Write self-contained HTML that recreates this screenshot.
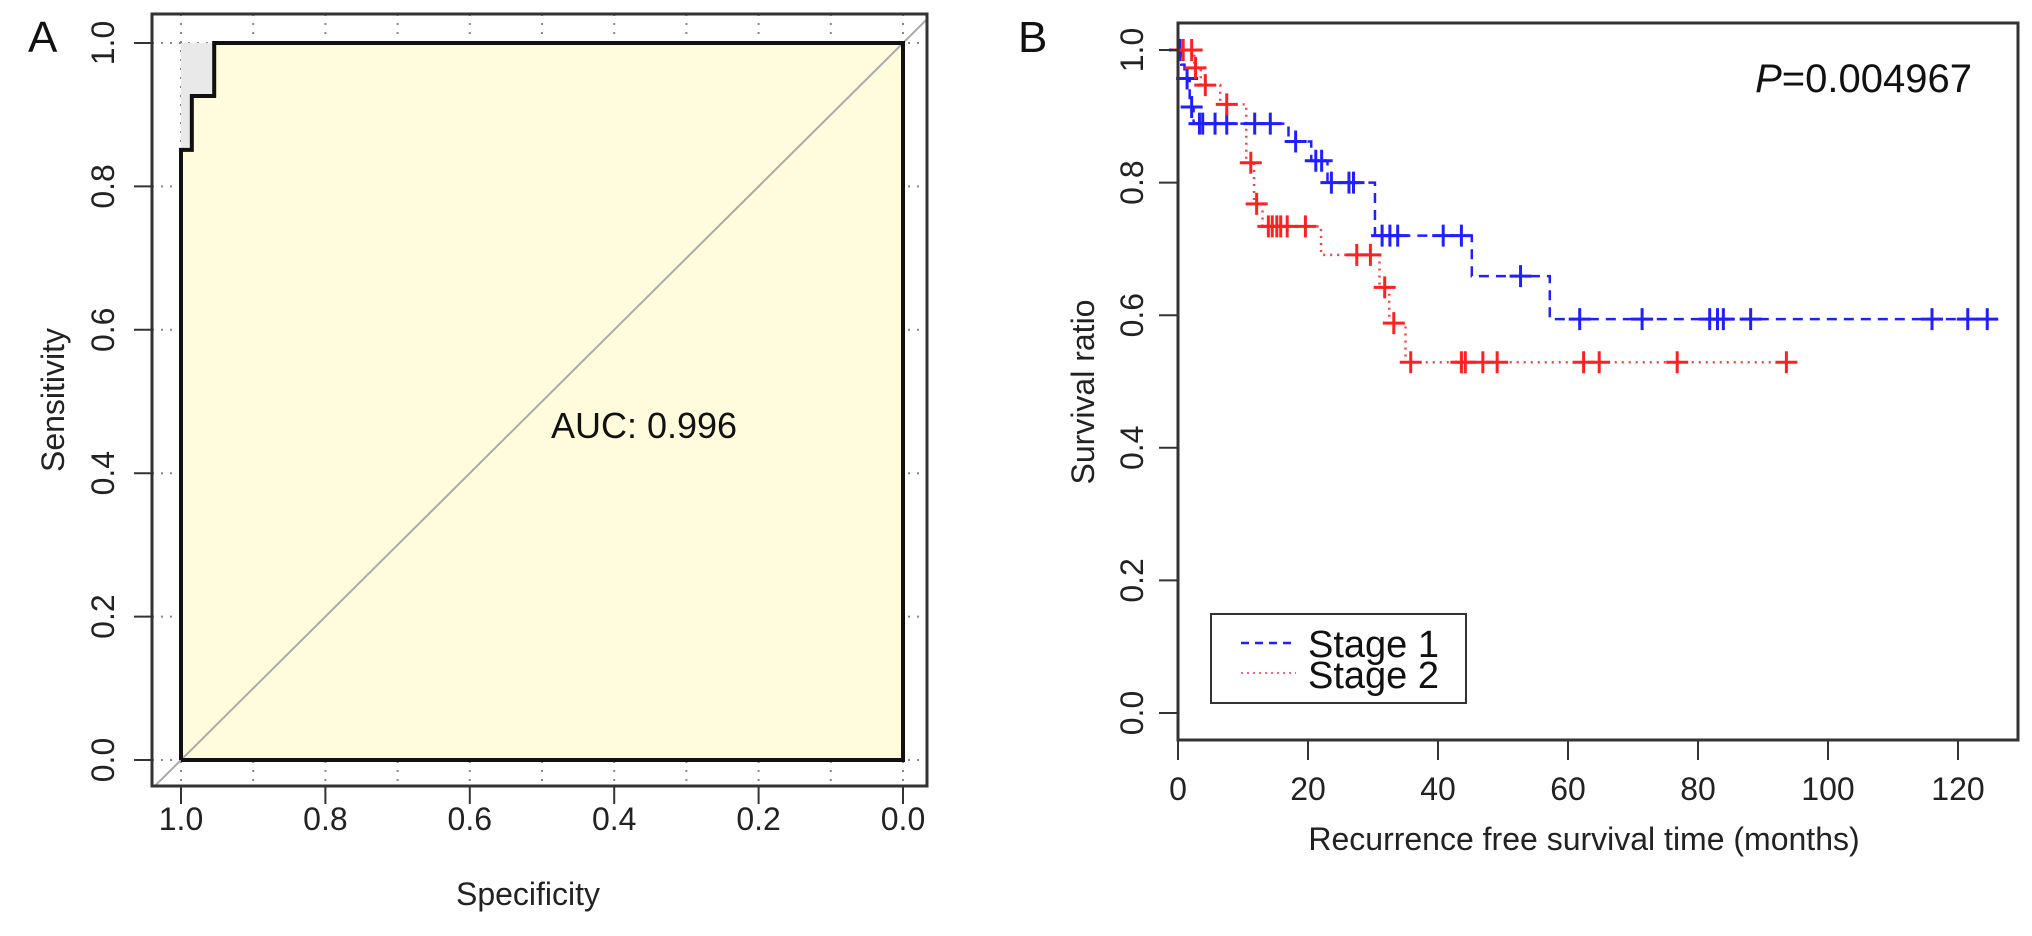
<!DOCTYPE html>
<html><head><meta charset="utf-8"><style>
html,body{margin:0;padding:0;background:#fff}
svg{display:block;font-family:"Liberation Sans",sans-serif}
</style></head><body>
<svg id="c" width="2032" height="936" viewBox="0 0 2032 936" xmlns="http://www.w3.org/2000/svg">
<g id="pa"></g>
<g id="pb"></g>
</svg>
<script>
// ---- Panel A data ----
const rocSpec = [1.0, 1.0, 0.985, 0.985, 0.954, 0.954, 0.0];
const rocSens = [0.0, 0.851, 0.851, 0.926, 0.926, 1.0, 1.0];
const rocTicks = [1.0, 0.8, 0.6, 0.4, 0.2, 0.0];
const rocTickLabels = ["1.0","0.8","0.6","0.4","0.2","0.0"];
const aucLabel = "AUC: 0.996";
// ---- Panel B data ----
const blueTimes = [0, 0.5, 1.0, 1.8, 2.4, 17, 20.5, 23, 30.3, 45.2, 57.2, 124.5];
const blueSurv  = [1.0, 0.978, 0.957, 0.914, 0.889, 0.862, 0.833, 0.80, 0.72, 0.659, 0.594, 0.594];
const blueCensor = [0.3, 1.4, 2.1, 3.3, 3.8, 5.7, 7.5, 11.8, 14.2, 18.1, 21.2, 22.1, 23.6, 26.3, 27.0, 31.4, 32.6, 33.8, 40.8, 43.6, 52.7, 61.8, 71.4, 81.8, 83.0, 83.9, 88.1, 116, 121.5, 124.5];
const redTimes = [0, 2.5, 3.5, 6.5, 10.5, 11.7, 13, 22, 31, 32.5, 35, 93.6];
const redSurv  = [1.0, 0.973, 0.947, 0.918, 0.83, 0.768, 0.734, 0.691, 0.642, 0.588, 0.529, 0.529];
const redCensor = [0.8, 2.1, 2.7, 4.2, 7.5, 11.2, 12.1, 13.9, 14.5, 15.2, 15.8, 16.8, 19.6, 27.5, 29.6, 31.8, 33.2, 35.8, 43.6, 44.2, 46.9, 49.1, 62.4, 64.8, 76.8, 93.6];
const kmXTicks = [0, 20, 40, 60, 80, 100, 120];
const kmYTicks = [0.0, 0.2, 0.4, 0.6, 0.8, 1.0];
const kmYTickLabels = ["0.0","0.2","0.4","0.6","0.8","1.0"];
const pLabel = "=0.004967";

const NS = "http://www.w3.org/2000/svg";
function mk(parent, tag, attrs, text){
  const e = document.createElementNS(NS, tag);
  for (const k in attrs) e.setAttribute(k, attrs[k]);
  if (text !== undefined) e.textContent = text;
  parent.appendChild(e); return e;
}
const pa = document.getElementById('pa');
const pb = document.getElementById('pb');

// ---- Panel A ----
const ax = s => 181 + (1 - s) * 722;
const ay = v => 760 - v * 717;
const A = {l:152, t:14, r:927, b:786};
for (let i = 0; i <= 10; i++) {
  const g = mk(pa, 'line', {x1:ax(i/10), x2:ax(i/10), y1:A.t, y2:A.b, stroke:'#888', 'stroke-width':2, 'stroke-dasharray':'2,7'});
  
  
}
for (let i = 0; i <= 5; i++) {
  const g = mk(pa, 'line', {x1:A.l, x2:A.r, y1:ay(i/5), y2:ay(i/5), stroke:'#888', 'stroke-width':2, 'stroke-dasharray':'2,7'});
  
  
}
let pts = rocSpec.map((s,i)=>ax(s)+','+ay(rocSens[i])).join(' ');
pts += ' ' + ax(0) + ',' + ay(0);
const poly = mk(pa, 'polygon', {points:pts, fill:'#fefcdc', stroke:'none'});


let ci = ax(1)+','+ay(1)+' '+ax(1)+','+ay(rocSens[1]);
for (let i = 1; i < rocSpec.length; i++) ci += ' ' + ax(rocSpec[i]) + ',' + ay(rocSens[i]);
const cip = mk(pa, 'polygon', {points:ci, fill:'#e9e9e9', stroke:'none'});


mk(pa, 'clipPath', {id:'clipA'});
mk(document.getElementById('clipA'), 'rect', {x:A.l, y:A.t, width:A.r-A.l, height:A.b-A.t});
const dg = mk(pa, 'line', {x1:ax(1.2), y1:ay(-0.2), x2:ax(-0.2), y2:ay(1.2), stroke:'#aaa', 'stroke-width':2, 'clip-path':'url(#clipA)'});


const rl = mk(pa, 'polyline', {points:rocSpec.map((s,i)=>ax(s)+','+ay(rocSens[i])).join(' ')+' '+ax(0)+','+ay(0)+' '+ax(1)+','+ay(0), fill:'none', stroke:'#111', 'stroke-width':4});


const boxA = mk(pa, 'rect', {x:A.l, y:A.t, width:A.r-A.l, height:A.b-A.t, fill:'none', stroke:'#333', 'stroke-width':3});


rocTicks.forEach((v,i)=>{
  const t = mk(pa, 'line', {x1:ax(v), x2:ax(v), y1:A.b, y2:A.b+18, stroke:'#333', 'stroke-width':2});
  
  
  const l = mk(pa, 'text', {x:ax(v), y:830, 'font-size':32, 'text-anchor':'middle', fill:'#222'}, rocTickLabels[i]);
  
  
  const t2 = mk(pa, 'line', {x1:A.l-18, x2:A.l, y1:ay(v), y2:ay(v), stroke:'#333', 'stroke-width':2});
  
  
  const l2 = mk(pa, 'text', {x:0, y:0, 'font-size':32, 'text-anchor':'middle', fill:'#222', transform:'translate(114,'+ay(v)+') rotate(-90)'}, rocTickLabels[i]);
  
  
});
</script>
<script>
(function(){
const pa = document.getElementById('pa');
const pb = document.getElementById('pb');
function mk(parent, tag, attrs, text){
  const e = document.createElementNS("http://www.w3.org/2000/svg", tag);
  for (const k in attrs) e.setAttribute(k, attrs[k]);
  if (text !== undefined) e.textContent = text;
  parent.appendChild(e); return e;
}
let t;
t = mk(pa, 'text', {x:28, y:52, 'font-size':44, fill:'#111'}, 'A');


t = mk(pa, 'text', {x:644, y:438, 'font-size':36, 'text-anchor':'middle', fill:'#111'}, aucLabel);


t = mk(pa, 'text', {x:528, y:905, 'font-size':32, 'text-anchor':'middle', fill:'#222'}, 'Specificity');


t = mk(pa, 'text', {x:0, y:0, 'font-size':32, 'text-anchor':'middle', fill:'#222', transform:'translate(64,400) rotate(-90)'}, 'Sensitivity');



// ---- Panel B ----
const bx = m => 1178 + m * 6.5;
const by = v => 713 - v * 663;
const B = {l:1178, t:23, r:2018, b:740};
function stepPath(ts, ss){
  let d = 'M' + bx(ts[0]) + ' ' + by(ss[0]);
  for (let i = 1; i < ts.length; i++) d += ' H' + bx(ts[i]) + ' V' + by(ss[i]);
  return d;
}
function survAt(ts, ss, m){
  let v = ss[0];
  for (let i = 0; i < ts.length; i++) if (ts[i] <= m) v = ss[i];
  return v;
}
const bl = mk(pb, 'path', {d:stepPath(blueTimes, blueSurv), fill:'none', stroke:'#2020ff', 'stroke-width':2.5, 'stroke-dasharray':'10,7'});


const rd = mk(pb, 'path', {d:stepPath(redTimes, redSurv), fill:'none', stroke:'#ff4040', 'stroke-width':2.5, 'stroke-dasharray':'2,5'});


function cross(m, v, col, name){
  const x = bx(m), y = by(v);
  const p = mk(pb, 'path', {d:'M'+(x-11)+' '+y+' H'+(x+11)+' M'+x+' '+(y-11)+' V'+(y+11), stroke:col, 'stroke-width':3, fill:'none'});
  
  
}
blueCensor.forEach(m => cross(m, survAt(blueTimes, blueSurv, m), '#2020ff', 'stage1-censor-mark'));
redCensor.forEach(m => cross(m, survAt(redTimes, redSurv, m), '#ff2020', 'stage2-censor-mark'));
const boxB = mk(pb, 'rect', {x:B.l, y:B.t, width:B.r-B.l, height:B.b-B.t, fill:'none', stroke:'#333', 'stroke-width':3});


kmXTicks.forEach(m=>{
  t = mk(pb, 'line', {x1:bx(m), x2:bx(m), y1:B.b, y2:B.b+20, stroke:'#333', 'stroke-width':2});
  
  
  t = mk(pb, 'text', {x:bx(m), y:800, 'font-size':32, 'text-anchor':'middle', fill:'#222'}, String(m));
  
  
});
kmYTicks.forEach((v,i)=>{
  t = mk(pb, 'line', {x1:B.l-19, x2:B.l, y1:by(v), y2:by(v), stroke:'#333', 'stroke-width':2});
  
  
  t = mk(pb, 'text', {x:0, y:0, 'font-size':32, 'text-anchor':'middle', fill:'#222', transform:'translate(1143,'+by(v)+') rotate(-90)'}, kmYTickLabels[i]);
  
  
});
t = mk(pb, 'text', {x:1018, y:52, 'font-size':44, fill:'#111'}, 'B');


t = mk(pb, 'text', {x:1584, y:850, 'font-size':32, 'text-anchor':'middle', fill:'#222'}, 'Recurrence free survival time (months)');


t = mk(pb, 'text', {x:0, y:0, 'font-size':32, 'text-anchor':'middle', fill:'#222', transform:'translate(1094,392) rotate(-90)'}, 'Survival ratio');


const pt = mk(pb, 'text', {x:1972, y:92, 'font-size':40, 'text-anchor':'end', fill:'#111'});


mk(pt, 'tspan', {'font-style':'italic'}, 'P');
mk(pt, 'tspan', {}, pLabel);
const lg = mk(pb, 'g', {});


t = mk(lg, 'rect', {x:1211, y:614, width:255, height:89, fill:'#fff', stroke:'#333', 'stroke-width':2});


t = mk(lg, 'line', {x1:1241, x2:1296, y1:643, y2:643, stroke:'#2020ff', 'stroke-width':2.5, 'stroke-dasharray':'8,6'});


t = mk(lg, 'text', {x:1308, y:657, 'font-size':38, fill:'#111'}, 'Stage 1');


t = mk(lg, 'line', {x1:1241, x2:1296, y1:673, y2:673, stroke:'#ff6080', 'stroke-width':2, 'stroke-dasharray':'2,4'});


t = mk(lg, 'text', {x:1308, y:688, 'font-size':38, fill:'#111'}, 'Stage 2');


})();
</script>
</body></html>
